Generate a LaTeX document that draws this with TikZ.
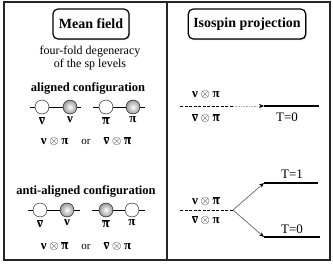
\documentclass[tikz,border=0pt]{standalone}
\usepackage{fontspec}
\setmainfont{Liberation Serif}
\usetikzlibrary{arrows.meta, positioning, shadows}

\newcommand{\nubar}{$\overline{\mbox{ν}}$}
\newcommand{\pibar}{$\overline{\mbox{π}}$}
\newcommand{\tens}{${}\otimes{}$}

\tikzset{
  frame/.style={line width=1.6pt, draw=black!85},
  title/.style={draw, very thick, rounded corners=5pt, fill=white, inner xsep=6pt, minimum height=30pt,
    font=\fontsize{14}{16}\selectfont\bfseries,
    drop shadow={shadow xshift=1pt, shadow yshift=-1pt, fill=black!45}},
  txt/.style={font=\fontsize{12}{13}\selectfont, inner sep=1pt},
  sym/.style={font=\fontsize{13}{14}\selectfont\bfseries, inner sep=1pt},
  head/.style={font=\fontsize{12.5}{14}\selectfont\bfseries, inner sep=1pt},
  hole/.style={circle, draw, fill=white, minimum size=14pt, inner sep=0pt},
  part/.style={circle, draw, inner color=white, outer color=black!40, minimum size=14pt, inner sep=0pt},
  level/.style={line width=1.3pt},
  degen/.style={thick, dash pattern=on 3pt off 1.5pt},
  split/.style={draw=black!65, semithick, -{Stealth[length=5pt, width=4pt, black]}},
}

\begin{document}
\begin{tikzpicture}[x=1pt, y=-1pt, node distance=1pt]
\useasboundingbox (0,0) rectangle (333,265);
\draw[frame] (4,2) rectangle (330,260);
\draw[frame] (167,2) -- (167,260);

% mean field panel
\node[title] (mf) at (91,24) {Mean field};
\node[txt, align=center] (deg) at (90,58) {four-fold degeneracy\\of the sp levels};
\node[head] (al) at (88,88) {aligned configuration};

\coordinate (a0) at (30,107);
\node[hole] (a1) at (42,107) {};
\node[part] (a2) at (70,107) {};
\coordinate (a3) at (81,107);
\coordinate (a4) at (93,107);
\node[hole] (a5) at (106,107) {};
\node[part] (a6) at (133,107) {};
\coordinate (a7) at (145,107);
\draw (a0) -- (a1) -- (a2) -- (a3);
\draw (a4) -- (a5) -- (a6) -- (a7);
\node[sym, below=of a1] (la1) {\nubar};
\node[sym, below=of a2] (la2) {ν};
\node[sym, below=of a5] (la5) {\pibar};
\node[sym, below=of a6] (la6) {π};
\node[sym] (or1) at (86,141) {ν\tens π\quad {\mdseries\fontsize{11}{13}\selectfont or}\quad \nubar\tens\pibar};

\node[head] (anti) at (86,191) {anti-aligned configuration};

\coordinate (b0) at (28,210);
\node[hole] (b1) at (40,210) {};
\node[part] (b2) at (67,210) {};
\coordinate (b3) at (80,210);
\coordinate (b4) at (92,210);
\node[part] (b5) at (106,210) {};
\node[hole] (b6) at (132,210) {};
\coordinate (b7) at (145,210);
\draw (b0) -- (b1) -- (b2) -- (b3);
\draw (b4) -- (b5) -- (b6) -- (b7);
\node[sym, below=of b1] (lb1) {\nubar};
\node[sym, below=of b2] (lb2) {ν};
\node[sym, below=of b5] (lb5) {\pibar};
\node[sym, below=of b6] (lb6) {π};
\node[sym] (or2) at (86,246) {ν\tens\pibar\quad {\mdseries\fontsize{11}{13}\selectfont or}\quad \nubar\tens π};

% isospin panel
\node[title, inner xsep=5pt] (iso) at (247,24) {Isospin projection};

\coordinate (c0) at (180,106);
\coordinate (c1) at (233,106);
\coordinate (c2) at (264,106);
\coordinate (c3) at (319,106);
\draw[degen] (c0) -- (c1);
\draw[split, draw=black!30, densely dotted] (c1) -- (c2);
\draw[level] (c2) -- (c3);
\node[sym] (p1) at (206,94) {ν\tens π};
\node[sym] (q1) at (206,118) {\nubar\tens\pibar};
\node[txt, font=\fontsize{13}{14}\selectfont] (t0a) at (287,117) {T=0};

\coordinate (d0) at (180,210);
\coordinate (d1) at (233,210);
\coordinate (e1) at (264,183);
\coordinate (e2) at (318,183);
\coordinate (f1) at (264,237);
\coordinate (f2) at (320,237);
\draw[degen] (d0) -- (d1);
\draw[split] (d1) -- (e1);
\draw[split] (d1) -- (f1);
\draw[level] (e1) -- (e2);
\draw[level] (f1) -- (f2);
\node[sym] (p2) at (206,201) {ν\tens\pibar};
\node[sym] (q2) at (206,220) {\nubar\tens π};
\node[txt, font=\fontsize{13}{14}\selectfont] (t1) at (292,174) {T=1};
\node[txt, font=\fontsize{13}{14}\selectfont] (t0b) at (292,229) {T=0};
\end{tikzpicture}
\end{document}
